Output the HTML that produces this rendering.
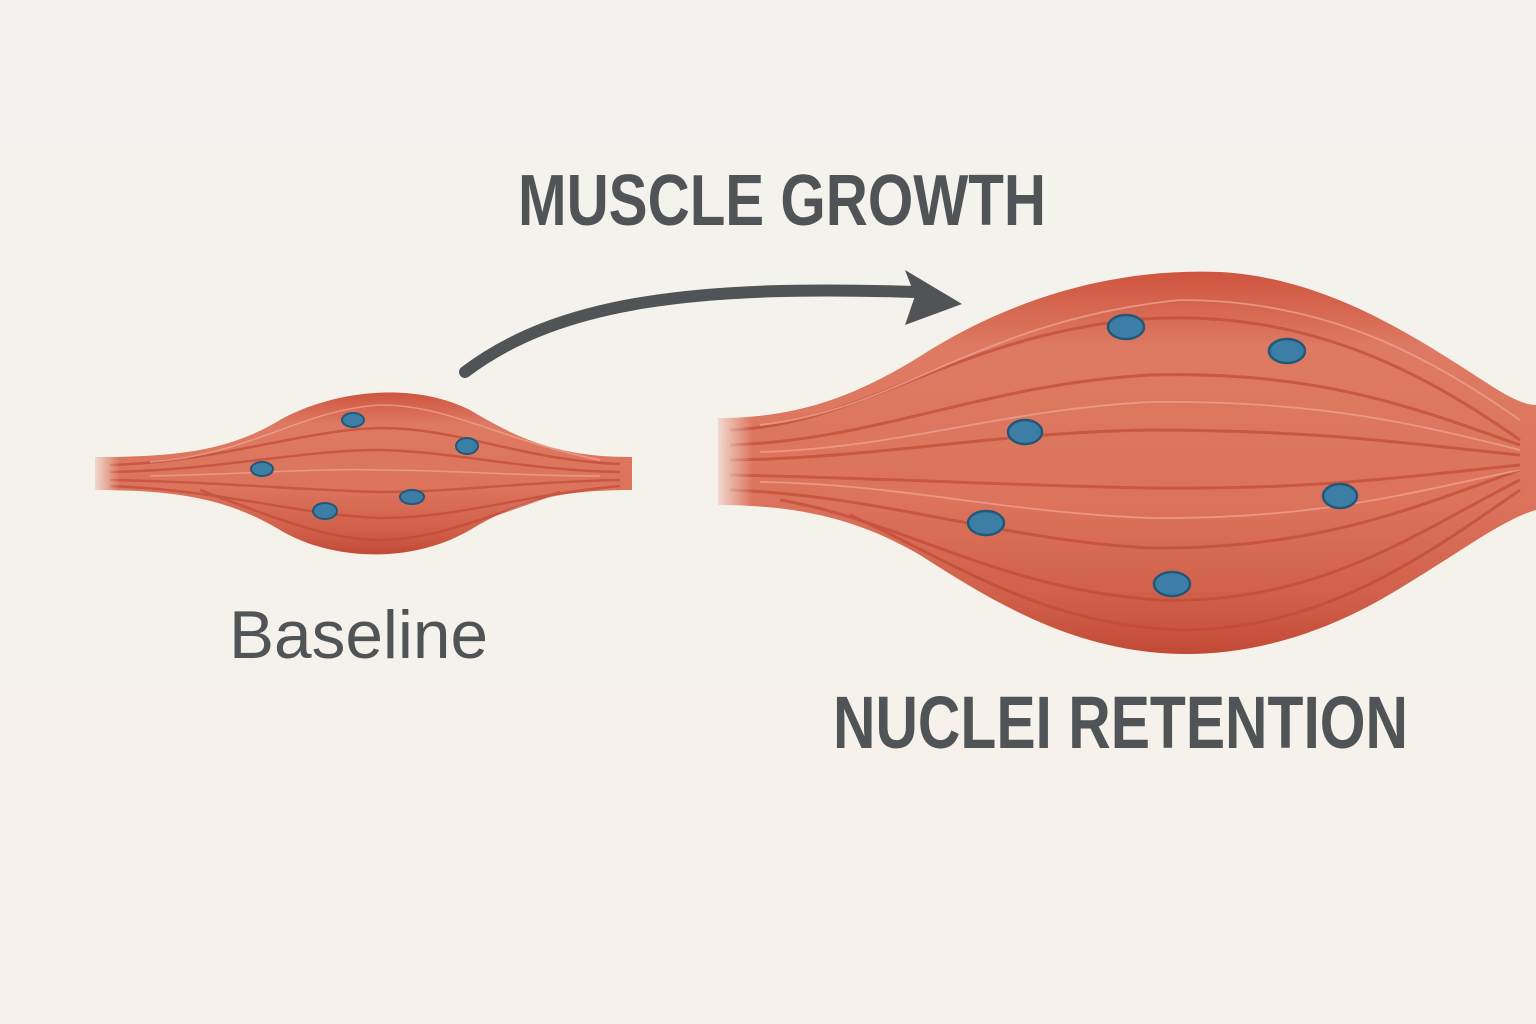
<!DOCTYPE html>
<html><head><meta charset="utf-8"><style>
html,body{margin:0;padding:0;background:#f6f2ec;}
svg{display:block}
</style></head><body>
<svg width="1536" height="1024" viewBox="0 0 1536 1024" xmlns="http://www.w3.org/2000/svg">
<defs>
<linearGradient id="bg" x1="0" y1="0" x2="0" y2="1"><stop offset="0" stop-color="#f4f2ee"/><stop offset="1" stop-color="#f6f1ea"/></linearGradient>
<linearGradient id="m1" x1="0" y1="0" x2="0" y2="1"><stop offset="0" stop-color="#cf553f"/><stop offset="0.2" stop-color="#de7a63"/><stop offset="0.6" stop-color="#dc735c"/><stop offset="0.85" stop-color="#d0604a"/><stop offset="1" stop-color="#c24a36"/></linearGradient>
<linearGradient id="fadeL" x1="0" y1="0" x2="1" y2="0"><stop offset="0" stop-color="#f6f2ec" stop-opacity="0.8"/><stop offset="1" stop-color="#f6f2ec" stop-opacity="0"/></linearGradient>
</defs>
<rect width="1536" height="1024" fill="url(#bg)"/>
<!-- small muscle -->
<path d="M95,457 C180,457 230,450 280,420 C330,392 410,380 470,410 C520,440 560,457 632,457 L632,490 C560,490 520,500 470,530 C410,565 330,560 280,530 C230,500 180,490 95,490 Z" fill="url(#m1)"/>
<g stroke="#c04a37" stroke-width="2.5" fill="none" opacity="0.7">
<path d="M110,465 C220,462 300,430 380,428 C460,428 520,460 620,464"/>
<path d="M110,472 C220,470 300,450 380,450 C460,452 520,470 620,472"/>
<path d="M110,480 C220,482 300,490 380,492 C460,492 520,482 620,480"/>
<path d="M110,486 C220,490 300,515 380,518 C460,518 520,495 620,486"/>
<path d="M200,490 C280,520 330,540 380,540 C430,540 480,520 560,492"/>
</g>
<g stroke="#f0a898" stroke-width="1.5" fill="none" opacity="0.7">
<path d="M150,462 C250,455 300,410 380,405 C450,405 500,440 600,460"/>
<path d="M150,476 C250,474 320,468 380,470 C450,470 520,476 600,476"/>
</g>
<rect x="95" y="450" width="25" height="45" fill="url(#fadeL)"/>
<g fill="#3d7ea6" stroke="#245877" stroke-width="2">
<ellipse cx="353" cy="420" rx="11" ry="7"/>
<ellipse cx="467" cy="446" rx="11" ry="8"/>
<ellipse cx="262" cy="469" rx="11" ry="7"/>
<ellipse cx="412" cy="497" rx="12" ry="7"/>
<ellipse cx="325" cy="511" rx="12" ry="8"/>
</g>
<!-- large muscle -->
<path d="M718,418 C800,418 860,395 930,350 C1020,295 1120,268 1220,272 C1330,278 1420,340 1490,385 C1510,398 1525,405 1536,405 L1536,510 C1500,520 1450,560 1380,600 C1300,645 1220,660 1150,652 C1060,642 990,600 920,555 C860,520 800,505 718,505 Z" fill="url(#m1)"/>
<g stroke="#c04a37" stroke-width="3" fill="none" opacity="0.7">
<path d="M730,430 C860,425 950,340 1130,320 C1300,305 1420,370 1520,440"/>
<path d="M730,445 C880,440 980,385 1150,375 C1320,370 1420,410 1520,445"/>
<path d="M730,460 C880,458 1000,432 1150,430 C1320,430 1420,445 1520,455"/>
<path d="M730,475 C880,478 1000,485 1150,488 C1320,490 1420,475 1520,465"/>
<path d="M730,490 C880,495 1000,540 1150,548 C1320,550 1420,505 1520,470"/>
<path d="M780,500 C900,520 1000,590 1160,600 C1320,605 1420,530 1520,480"/>
<path d="M850,515 C950,560 1040,625 1180,630 C1320,630 1420,560 1520,490"/>
</g>
<g stroke="#f0a898" stroke-width="1.8" fill="none" opacity="0.7">
<path d="M760,425 C900,410 980,320 1180,300 C1320,300 1420,350 1520,420"/>
<path d="M760,452 C900,448 1000,410 1150,402 C1320,400 1420,425 1520,450"/>
<path d="M760,482 C900,484 1000,512 1150,518 C1320,520 1420,490 1520,470"/>
</g>
<rect x="718" y="410" width="35" height="100" fill="url(#fadeL)"/>
<g fill="#3d7ea6" stroke="#245877" stroke-width="2.5">
<ellipse cx="1126" cy="327" rx="18" ry="12"/>
<ellipse cx="1287" cy="351" rx="18" ry="12"/>
<ellipse cx="1025" cy="432" rx="17" ry="12"/>
<ellipse cx="1340" cy="496" rx="17" ry="12"/>
<ellipse cx="986" cy="523" rx="18" ry="12"/>
<ellipse cx="1172" cy="584" rx="18" ry="12"/>
</g>
<!-- arrow -->
<path d="M465,372 C560,300 700,285 915,292" stroke="#505456" stroke-width="12" fill="none" stroke-linecap="round"/>
<path d="M905,270 L962,304 L905,325 L915,296 Z" fill="#505456"/>
<!-- text -->
<g font-family="Liberation Sans, sans-serif" fill="#505456">
<text x="518" y="225" font-size="72" font-weight="bold" textLength="528" lengthAdjust="spacingAndGlyphs">MUSCLE GROWTH</text>
<text x="833" y="748" font-size="74" font-weight="bold" textLength="575" lengthAdjust="spacingAndGlyphs">NUCLEI RETENTION</text>
<text x="229" y="658" font-size="68" textLength="259" lengthAdjust="spacingAndGlyphs">Baseline</text>
</g>
</svg>
</body></html>
